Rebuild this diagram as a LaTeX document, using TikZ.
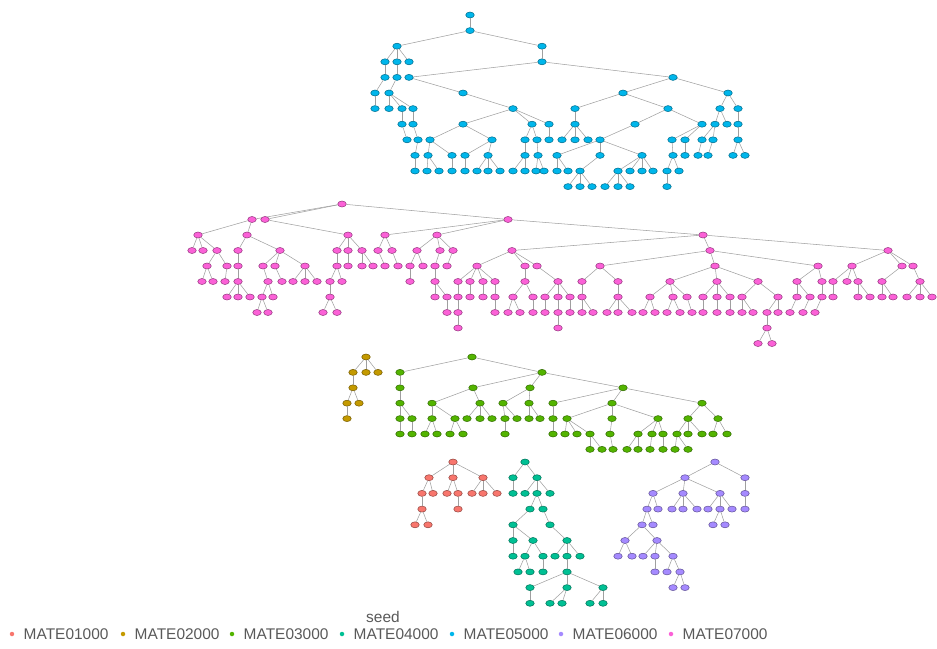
\documentclass[tikz,border=0pt]{standalone}
\usepackage{fontspec}
\setmainfont{Liberation Sans}
\usetikzlibrary{positioning,shapes.geometric}

\definecolor{mate1}{HTML}{F8766D}
\definecolor{mate2}{HTML}{C49A00}
\definecolor{mate3}{HTML}{53B400}
\definecolor{mate4}{HTML}{00C094}
\definecolor{mate5}{HTML}{00B6EB}
\definecolor{mate6}{HTML}{A58AFF}
\definecolor{mate7}{HTML}{FB61D7}

\tikzset{
    seedpt/.style={ellipse, minimum width=0.17cm, minimum height=0.12cm,
        inner sep=0pt, fill=#1, draw=#1!60!black, line width=0.3pt},
    link/.style={draw=gray!75, line width=0.3pt},
    keypt/.style={circle, minimum size=0.09cm, inner sep=0pt, fill=#1},
    keytxt/.style={font=\fontsize{8.8}{10}\selectfont, text=black!65, inner sep=0pt},
}

\begin{document}
\begin{tikzpicture}[x=0.02cm, y=-0.02cm]
    \useasboundingbox (0,0) rectangle (937,649);

    % MATE05000
    \node[seedpt=mate5] (b470-0) at (470,15) {};
    \foreach \x/\lv/\q in {470/1/470,
        397/2/470, 542/2/470,
        385/3/397, 397/3/397, 409/3/397, 542/3/542,
        385/4/385, 397/4/397, 409/4/542, 673/4/542,
        375/5/385, 389/5/397, 463/5/409, 623/5/673, 728/5/673,
        375/6/375, 389/6/389, 402/6/389, 413/6/389, 513/6/463, 575/6/623, 668/6/623, 720/6/728, 738/6/728,
        402/7/402, 413/7/413, 463/7/513, 532/7/513, 549/7/513, 575/7/575, 635/7/668, 702/7/668, 715/7/720, 727/7/720, 738/7/738,
        407/8/402, 418/8/413, 430/8/463, 492/8/463, 525/8/532, 537/8/532, 549/8/549, 562/8/575, 575/8/575, 588/8/575,
        600/8/635, 672/8/702, 685/8/702, 702/8/715, 713/8/715, 738/8/738,
        415/9/418, 428/9/430, 452/9/430, 465/9/492, 488/9/492, 525/9/525, 538/9/537, 557/9/600, 600/9/600, 642/9/600,
        673/9/672, 685/9/685, 698/9/702, 708/9/713, 733/9/738, 745/9/738,
        415/10/415, 427/10/428, 439/10/428, 452/10/452, 465/10/465, 477/10/488, 488/10/488, 500/10/488, 513/10/525, 525/10/525,
        536/10/538, 544/10/538, 557/10/557, 568/10/557, 580/10/600, 618/10/642, 630/10/642, 642/10/642, 653/10/642, 667/10/673, 679/10/673,
        568/11/580, 580/11/580, 592/11/580, 605/11/618, 618/11/618, 630/11/618, 667/11/667} {
        \pgfmathtruncatemacro\prow{\lv-1}
        \node[seedpt=mate5] (b\x-\lv) at (\x,{15+15.6*\lv}) {};
        \draw[link] (b\q-\prow) -- (b\x-\lv);
    }

    % MATE07000
    \node[seedpt=mate7] (p342-0) at (342,204) {};
    \foreach \x/\lv/\q in {252/1/342, 265/1/342, 508/1/342,
        198/2/252, 247/2/252, 348/2/265, 385/2/508, 437/2/508, 703/2/508,
        192/3/198, 203/3/198, 217/3/198, 238/3/247, 280/3/247, 337/3/348, 348/3/348, 362/3/348, 378/3/385, 392/3/385,
        417/3/437, 440/3/437, 453/3/437, 512/3/703, 710/3/703, 888/3/703,
        207/4/217, 227/4/217, 238/4/238, 263/4/280, 275/4/280, 305/4/280, 337/4/337, 348/4/348, 362/4/362, 373/4/362,
        385/4/378, 398/4/392, 410/4/417, 423/4/417, 435/4/440, 447/4/453, 477/4/512, 525/4/512, 537/4/512,
        600/4/710, 715/4/710, 818/4/710, 852/4/888, 902/4/888, 913/4/888,
        202/5/207, 213/5/207, 225/5/227, 238/5/238, 268/5/263, 282/5/275, 293/5/305, 305/5/305, 317/5/305, 330/5/337,
        342/5/337, 410/5/410, 435/5/435, 458/5/477, 470/5/477, 483/5/477, 495/5/477, 525/5/525, 558/5/537, 582/5/600,
        618/5/600, 670/5/715, 717/5/715, 758/5/715, 797/5/818, 822/5/818, 833/5/852, 847/5/852, 858/5/852, 882/5/902, 920/5/913,
        227/6/238, 238/6/238, 250/6/238, 262/6/268, 273/6/268, 330/6/330, 435/6/435, 447/6/435, 458/6/458, 470/6/470,
        483/6/483, 495/6/495, 513/6/525, 533/6/525, 545/6/558, 558/6/558, 570/6/558, 582/6/582, 618/6/618, 650/6/670,
        673/6/670, 687/6/670, 703/6/717, 717/6/717, 730/6/717, 742/6/758, 778/6/758, 797/6/797, 810/6/797, 822/6/822,
        833/6/833, 858/6/858, 870/6/858, 882/6/882, 893/6/882, 907/6/920, 920/6/920, 932/6/920,
        257/7/262, 268/7/262, 323/7/330, 337/7/330, 447/7/447, 458/7/458, 495/7/495, 508/7/513, 520/7/513, 533/7/533,
        545/7/545, 558/7/558, 570/7/570, 582/7/582, 593/7/582, 607/7/618, 618/7/618, 632/7/618, 643/7/650, 655/7/650,
        667/7/673, 680/7/673, 692/7/687, 703/7/703, 717/7/717, 730/7/730, 742/7/742, 753/7/742, 767/7/778, 778/7/778,
        790/7/797, 803/7/810, 815/7/822,
        458/8/458, 558/8/558, 767/8/767,
        758/9/767, 772/9/767} {
        \pgfmathtruncatemacro\prow{\lv-1}
        \node[seedpt=mate7] (p\x-\lv) at (\x,{204+15.5*\lv}) {};
        \draw[link] (p\q-\prow) -- (p\x-\lv);
    }

    % MATE02000
    \node[seedpt=mate2] (o366-0) at (366,357) {};
    \foreach \x/\lv/\q in {353/1/366, 366/1/366, 378/1/366,
        353/2/353, 347/3/353, 359/3/353, 347/4/347} {
        \pgfmathtruncatemacro\prow{\lv-1}
        \node[seedpt=mate2] (o\x-\lv) at (\x,{357+15.4*\lv}) {};
        \draw[link] (o\q-\prow) -- (o\x-\lv);
    }

    % MATE03000
    \node[seedpt=mate3] (g472-0) at (472,357) {};
    \foreach \x/\lv/\q in {400/1/472, 542/1/472,
        400/2/400, 473/2/542, 530/2/542, 623/2/542,
        400/3/400, 432/3/473, 480/3/473, 503/3/530, 529/3/530, 553/3/623, 612/3/623, 702/3/623,
        400/4/400, 412/4/400, 432/4/432, 455/4/432, 467/4/480, 480/4/480, 492/4/480, 505/4/503, 517/4/503,
        529/4/529, 540/4/529, 553/4/553, 567/4/612, 612/4/612, 658/4/612, 688/4/702, 718/4/702,
        400/5/400, 412/5/412, 425/5/432, 437/5/432, 450/5/455, 463/5/455, 505/5/505, 553/5/553, 565/5/567, 577/5/567,
        590/5/567, 610/5/612, 638/5/658, 652/5/658, 663/5/658, 677/5/688, 688/5/688, 702/5/688, 713/5/718, 727/5/718,
        590/6/590, 602/6/590, 613/6/610, 627/6/638, 638/6/638, 650/6/652, 663/6/663, 675/6/677, 688/6/677} {
        \pgfmathtruncatemacro\prow{\lv-1}
        \node[seedpt=mate3] (g\x-\lv) at (\x,{357+15.4*\lv}) {};
        \draw[link] (g\q-\prow) -- (g\x-\lv);
    }

    % MATE01000
    \node[seedpt=mate1] (r453-0) at (453,462) {};
    \foreach \x/\lv/\q in {429/1/453, 453/1/453, 483/1/453,
        422/2/429, 433/2/429, 447/2/453, 458/2/453, 472/2/483, 483/2/483, 497/2/483,
        422/3/422, 458/3/458, 415/4/422, 428/4/422} {
        \pgfmathtruncatemacro\prow{\lv-1}
        \node[seedpt=mate1] (r\x-\lv) at (\x,{462+15.7*\lv}) {};
        \draw[link] (r\q-\prow) -- (r\x-\lv);
    }

    % MATE04000
    \node[seedpt=mate4] (t525-0) at (525,462) {};
    \foreach \x/\lv/\q in {513/1/525, 537/1/525,
        513/2/513, 525/2/537, 537/2/537, 550/2/537,
        530/3/537, 543/3/537,
        513/4/530, 550/4/543,
        513/5/513, 533/5/513, 567/5/550,
        513/6/513, 525/6/533, 543/6/533, 555/6/567, 567/6/567, 580/6/567,
        518/7/525, 530/7/525, 543/7/543, 567/7/567,
        530/8/567, 567/8/567, 603/8/567,
        530/9/530, 550/9/567, 562/9/567, 590/9/603, 603/9/603} {
        \pgfmathtruncatemacro\prow{\lv-1}
        \node[seedpt=mate4] (t\x-\lv) at (\x,{462+15.7*\lv}) {};
        \draw[link] (t\q-\prow) -- (t\x-\lv);
    }

    % MATE06000
    \node[seedpt=mate6] (v715-0) at (715,462) {};
    \foreach \x/\lv/\q in {685/1/715, 745/1/715,
        653/2/685, 683/2/685, 720/2/685, 745/2/745,
        647/3/653, 658/3/653, 672/3/683, 683/3/683, 697/3/683, 708/3/720, 720/3/720, 732/3/720, 745/3/745,
        642/4/647, 653/4/647, 713/4/720, 725/4/720,
        625/5/642, 657/5/642,
        618/6/625, 632/6/625, 643/6/657, 655/6/657, 673/6/657,
        655/7/655, 667/7/673, 680/7/673,
        673/8/680, 685/8/680} {
        \pgfmathtruncatemacro\prow{\lv-1}
        \node[seedpt=mate6] (v\x-\lv) at (\x,{462+15.7*\lv}) {};
        \draw[link] (v\q-\prow) -- (v\x-\lv);
    }

    % legend
    \node[keytxt] (seedttl) at (383,617) {seed};
    \foreach \k/\kx in {1/12, 2/123, 3/232, 4/342, 5/452, 6/561, 7/671} {
        \node[keypt=mate\k] (key\k) at (\kx,634) {};
        \node[keytxt, right=5pt of key\k] (lab\k) {MATE0\k000};
    }
\end{tikzpicture}
\end{document}
